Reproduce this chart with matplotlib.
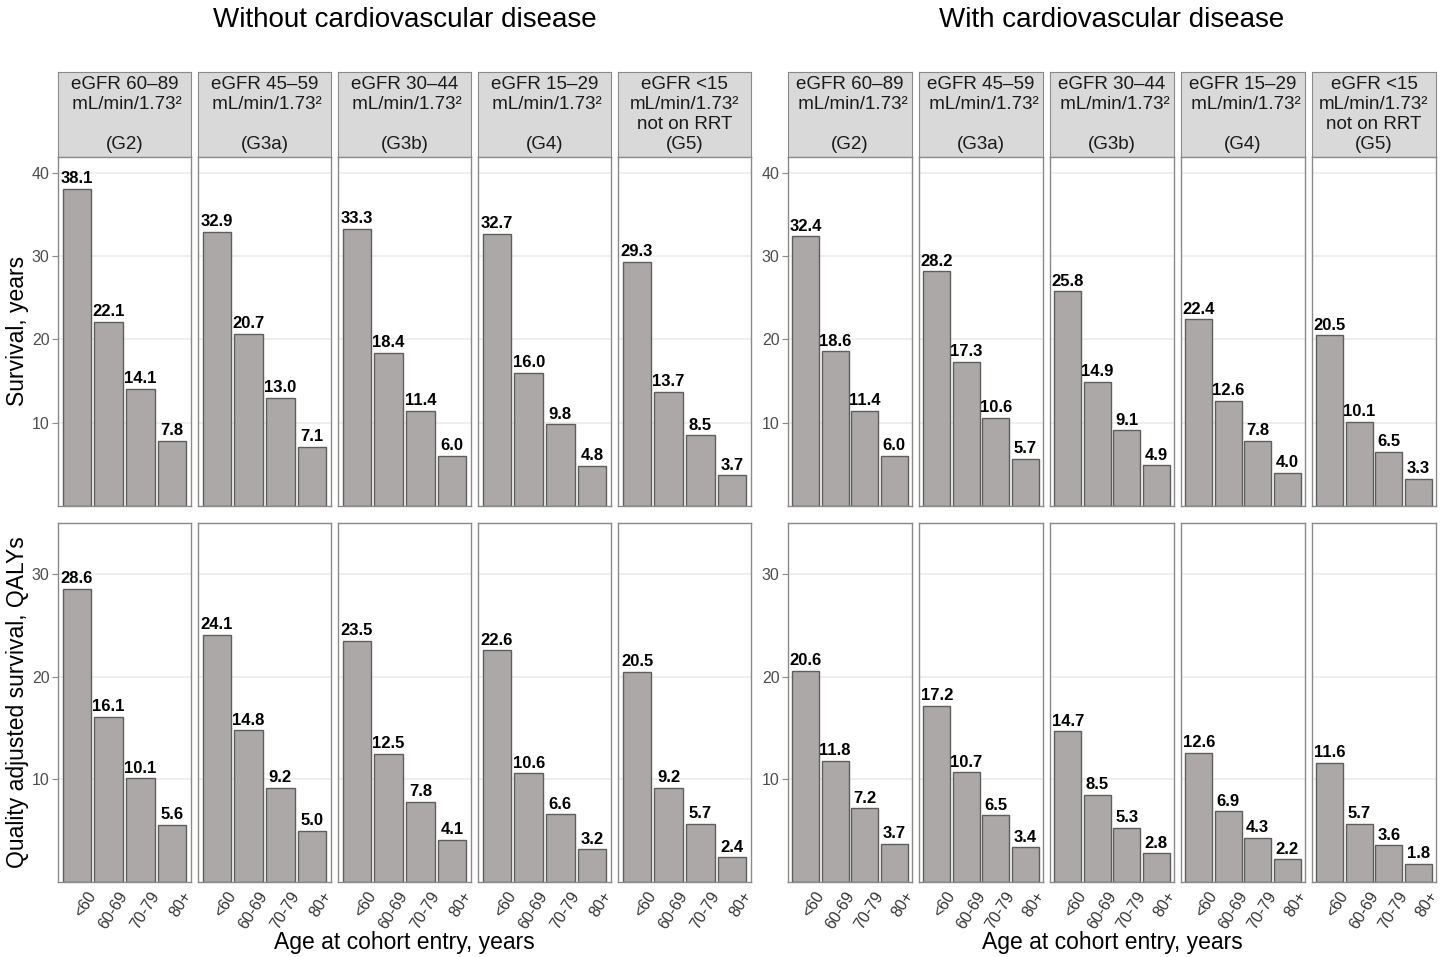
import matplotlib.pyplot as plt
import matplotlib.transforms as mtransforms

plt.rcParams['font.family'] = ['Liberation Sans', 'DejaVu Sans']

# data
ages = ['<60', '60-69', '70-79', '80+']
strips = ['eGFR 60–89\n mL/min/1.73²\n\n(G2)',
          'eGFR 45–59\n mL/min/1.73²\n\n(G3a)',
          'eGFR 30–44\n mL/min/1.73²\n\n(G3b)',
          'eGFR 15–29\n mL/min/1.73²\n\n(G4)',
          'eGFR <15\nmL/min/1.73²\nnot on RRT\n(G5)']
groups = ['Without cardiovascular disease', 'With cardiovascular disease']

surv_no_cvd = [[38.1, 22.1, 14.1, 7.8], [32.9, 20.7, 13.0, 7.1],
               [33.3, 18.4, 11.4, 6.0], [32.7, 16.0, 9.8, 4.8],
               [29.3, 13.7, 8.5, 3.7]]
surv_cvd = [[32.4, 18.6, 11.4, 6.0], [28.2, 17.3, 10.6, 5.7],
            [25.8, 14.9, 9.1, 4.9], [22.4, 12.6, 7.8, 4.0],
            [20.5, 10.1, 6.5, 3.3]]
qaly_no_cvd = [[28.6, 16.1, 10.1, 5.6], [24.1, 14.8, 9.2, 5.0],
               [23.5, 12.5, 7.8, 4.1], [22.6, 10.6, 6.6, 3.2],
               [20.5, 9.2, 5.7, 2.4]]
qaly_cvd = [[20.6, 11.8, 7.2, 3.7], [17.2, 10.7, 6.5, 3.4],
            [14.7, 8.5, 5.3, 2.8], [12.6, 6.9, 4.3, 2.2],
            [11.6, 5.7, 3.6, 1.8]]

surv_ticks = [10, 20, 30, 40]
qaly_ticks = [10, 20, 30]

W, H = 1445, 957
fig = plt.figure(figsize=(W / 100, H / 100), dpi=100)


def px_axes(x0, y0, x1, y1):
    return fig.add_axes([x0 / W, 1 - y1 / H, (x1 - x0) / W, (y1 - y0) / H])


BAR = '#ADA8A8'
EDGE = '#5E5E5E'
BORDER = '#8A8A8A'
TICKC = '#4D4D4D'
shift = mtransforms.ScaledTranslation(9 / 100, 0, fig.dpi_scale_trans)


def style(ax, ticks, ylim, show_y, show_x):
    ax.set_ylim(0, ylim)
    ax.set_xlim(-0.6, 3.6)
    ax.set_yticks(ticks)
    ax.grid(axis='y', color='#EBEBEB', lw=1.1)
    ax.set_axisbelow(True)
    for s in ax.spines.values():
        s.set_color(BORDER)
        s.set_linewidth(1.0)
    ax.tick_params(axis='y', length=4, color=BORDER, labelsize=11.5,
                   labelcolor=TICKC, left=show_y, labelleft=show_y, pad=2)
    ax.tick_params(axis='x', length=0, labelsize=11.5, labelcolor='#333333',
                   labelbottom=show_x, pad=5)
    if show_x:
        for lab in ax.get_xticklabels():
            lab.set_rotation(58)
            lab.set_ha('right')
            lab.set_va('top')
            lab.set_rotation_mode('anchor')
            lab.set_transform(lab.get_transform() + shift)


def bars(ax, vals):
    ax.bar(ages, vals, width=0.9, color=BAR, edgecolor=EDGE, linewidth=1.0)
    for i, v in enumerate(vals):
        ax.annotate(f'{v:.1f}', (i, v), xytext=(0, 4), textcoords='offset points',
                    ha='center', va='baseline', fontsize=12, fontweight='bold')


layouts = [(58, 133, surv_no_cvd, qaly_no_cvd), (788, 124, surv_cvd, qaly_cvd)]
gap = 7
for g, (left, pw, surv, qaly) in enumerate(layouts):
    for k in range(5):
        x0 = left + k * (pw + gap)
        x1 = x0 + pw
        st = px_axes(x0, 72, x1, 157)
        st.set_facecolor('#D9D9D9')
        st.set_xticks([])
        st.set_yticks([])
        for s in st.spines.values():
            s.set_color(BORDER)
        st.text(0.5, 0.5, strips[k], ha='center', va='center', fontsize=13.5,
                color='#1A1A1A', linespacing=1.22, transform=st.transAxes)

        ax1 = px_axes(x0, 157, x1, 506)
        bars(ax1, surv[k])
        style(ax1, surv_ticks, 41.9, k == 0, False)

        ax2 = px_axes(x0, 523, x1, 882)
        bars(ax2, qaly[k])
        style(ax2, qaly_ticks, 35, k == 0, True)

    cx = (left + left + 5 * pw + 4 * gap) / 2
    fig.text(cx / W, 1 - 20 / H, groups[g], ha='center', va='center', fontsize=20)
    fig.text(cx / W, 1 - 942 / H, 'Age at cohort entry, years', ha='center',
             va='center', fontsize=16.5)

fig.text(18 / W, 1 - 331 / H, 'Survival, years', rotation=90, ha='center',
         va='center', fontsize=16.5)
fig.text(18 / W, 1 - 702 / H, 'Quality adjusted survival, QALYs', rotation=90,
         ha='center', va='center', fontsize=16.5)

fig.savefig('out.png', dpi=100)
